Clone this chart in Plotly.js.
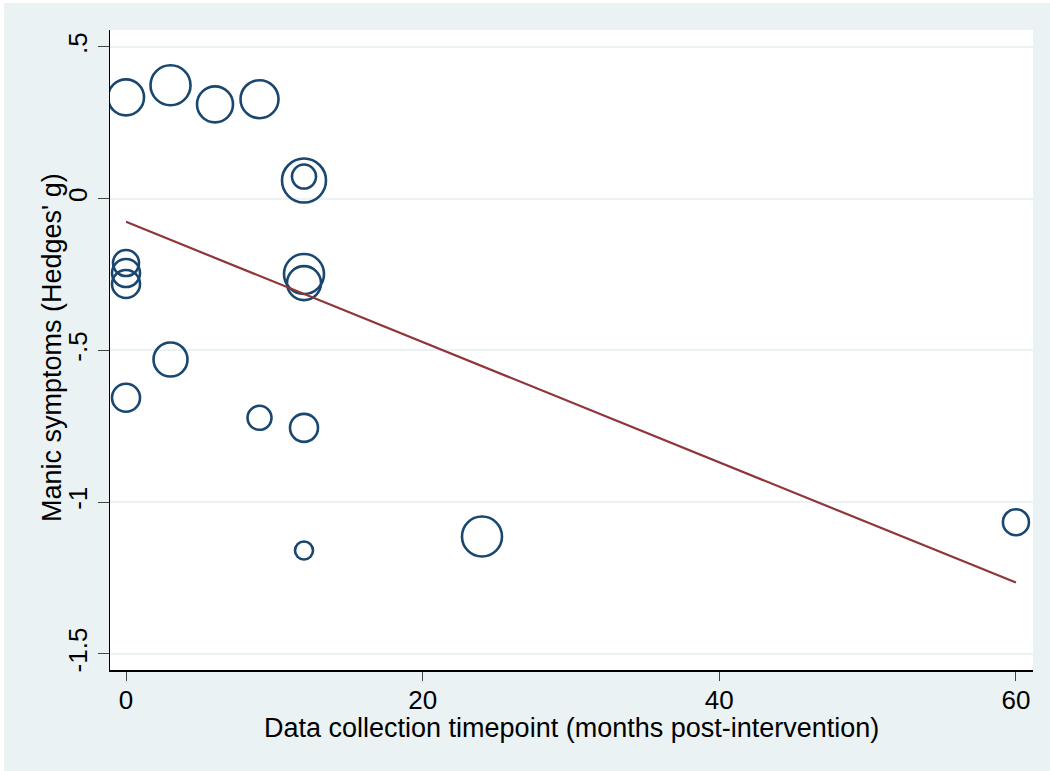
<!DOCTYPE html>
<html>
<head>
<meta charset="utf-8">
<script src="https://cdn.plot.ly/plotly-3.0.1.min.js"></script>
<style>
html,body{margin:0;padding:0;background:#ffffff;}
#chart{position:absolute;left:4px;top:3px;width:1046px;height:768px;}
</style>
</head>
<body>
<div id="chart"></div>
<script>
// Study effects: timepoint (months), Hedges' g, study weight (bubble size)
var months  = [0,    3,    6,    9,    12,   12,    0,     0,     0,     12,    12,    3,     0,     9,     12,    12,    24,    60];
var hedgesG = [0.334,0.374,0.311,0.328,0.060,0.073,-0.212,-0.245,-0.281,-0.248,-0.278,-0.530,-0.656,-0.722,-0.755,-1.159,-1.113,-1.066];
var weights = [36,   40,   36,   38,   44,   24,    26,    28,    28,    40,    34,    34,    28,    24,    28,    18,    40,    26];

// Meta-regression fitted line
var fitX = [0, 60];
var fitY = [-0.076, -1.265];

var yTicks = [0.5, 0, -0.5, -1, -1.5];
var yTickText = ['.5', '0', '-.5', '-1', '-1.5'];
var xTicks = [0, 20, 40, 60];

var xTitle = 'Data collection timepoint (months post-intervention)';
var yTitle = "Manic symptoms (Hedges' g)";

var font = 'Arial, "Liberation Sans", sans-serif';

var traces = [
  {
    x: months, y: hedgesG, type: 'scatter', mode: 'markers',
    marker: {
      symbol: 'circle-open',
      size: weights, sizemode: 'diameter', sizeref: 1,
      opacity: 1,
      color: '#1A476F',
      line: {color: '#1A476F', width: 2.6}
    },
    hoverinfo: 'x+y', showlegend: false
  },
  {
    x: fitX, y: fitY, type: 'scatter', mode: 'lines',
    line: {color: '#90353B', width: 2.2},
    showlegend: false
  }
];

var layout = {
  width: 1046, height: 768,
  paper_bgcolor: '#EAF2F3',
  plot_bgcolor: '#FFFFFF',
  margin: {l: 106, r: 17, t: 27, b: 101},
  font: {family: font, color: '#000000', size: 26},
  xaxis: {
    range: [-1.08, 61.15],
    tickvals: xTicks,
    ticktext: xTicks.map(String),
    ticks: 'outside', ticklen: 9, tickwidth: 1, tickcolor: '#444',
    ticklabelstandoff: -3,
    showgrid: false, zeroline: false,
    showline: true, linecolor: '#000', linewidth: 1.5,
    tickfont: {size: 26}
  },
  yaxis: {
    range: [-1.553, 0.556],
    tickvals: yTicks,
    ticktext: yTickText,
    tickangle: -90,
    ticks: 'outside', ticklen: 11, tickwidth: 1, tickcolor: '#444',
    showgrid: true, gridcolor: '#EAF2F3', gridwidth: 2,
    zeroline: false,
    showline: true, linecolor: '#000', linewidth: 1.5,
    tickfont: {size: 26}
  },
  annotations: [
    {text: xTitle, xref: 'paper', yref: 'paper', x: 0.5, y: 0, xanchor: 'center', yanchor: 'top',
     yshift: -42, borderpad: 0, showarrow: false, font: {size: 27}},
    {text: yTitle, xref: 'paper', yref: 'paper', x: 0, y: 0.5, xanchor: 'center', yanchor: 'middle',
     xshift: -58, yshift: 2, borderpad: 0, textangle: -90, showarrow: false, font: {size: 27}}
  ]
};

Plotly.newPlot('chart', traces, layout, {displayModeBar: false, staticPlot: true});
</script>
</body>
</html>
